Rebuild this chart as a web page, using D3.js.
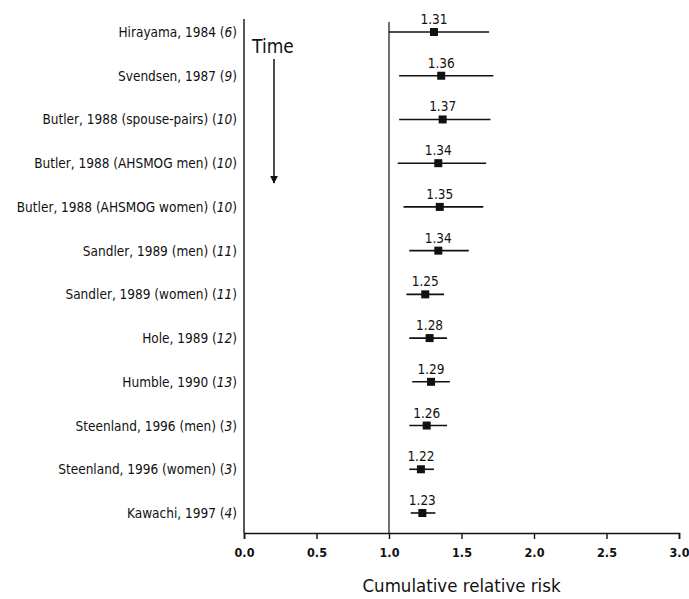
<!DOCTYPE html>
<html>
<head>
<meta charset="utf-8">
<script src="https://cdn.jsdelivr.net/npm/d3@7"></script>
<style>
  body { margin: 0; background: #fff; }
  svg { font-family: "DejaVu Sans Condensed", "DejaVu Sans", sans-serif; font-stretch: condensed; }
</style>
</head>
<body>
<div id="chart"></div>
<script>
const studies = ["Hirayama, 1984", "Svendsen, 1987", "Butler, 1988 (spouse-pairs)", "Butler, 1988 (AHSMOG men)",
    "Butler, 1988 (AHSMOG women)", "Sandler, 1989 (men)", "Sandler, 1989 (women)", "Hole, 1989",
    "Humble, 1990", "Steenland, 1996 (men)", "Steenland, 1996 (women)", "Kawachi, 1997"];
const refs = ["6", "9", "10", "10", "10", "11", "11", "12", "13", "3", "3", "4"];
const rr = [1.31, 1.36, 1.37, 1.34, 1.35, 1.34, 1.25, 1.28, 1.29, 1.26, 1.22, 1.23];
const lower = [1.00, 1.07, 1.07, 1.06, 1.10, 1.14, 1.12, 1.14, 1.16, 1.14, 1.14, 1.15];
const upper = [1.69, 1.72, 1.70, 1.67, 1.65, 1.55, 1.38, 1.40, 1.42, 1.40, 1.31, 1.32];
const xTicks = [0, 0.5, 1, 1.5, 2, 2.5, 3];

const data = studies.map((s, i) => ({ study: s, ref: refs[i], rr: rr[i], lo: lower[i], hi: upper[i] }));

const W = 689, H = 599;
const margin = { top: 10, right: 10, bottom: 66, left: 244 };

const svg = d3.select("#chart").append("svg")
    .attr("width", W)
    .attr("height", H);

const x = d3.scaleLinear().domain([0, 3]).range([margin.left, W - margin.right]);
const y = d3.scalePoint().domain(d3.range(data.length)).range([32, 513]);
const axisY = H - margin.bottom;

// axis
svg.append("g")
    .attr("transform", `translate(0,${axisY})`)
    .call(d3.axisBottom(x).tickValues(xTicks).tickFormat(d3.format(".1f")).tickSize(6).tickPadding(9))
    .call(g => g.select(".domain").attr("stroke", "#111").attr("stroke-width", 1.6))
    .call(g => g.selectAll(".tick line").attr("stroke", "#111").attr("stroke-width", 1.4))
    .call(g => g.selectAll(".tick text")
        .attr("font-size", "12.5px")
        .attr("font-weight", "bold")
        .attr("fill", "#111")
        .attr("font-family", "'DejaVu Sans Condensed', 'DejaVu Sans', sans-serif"));

// left vertical line and reference line at 1.0
svg.append("line")
    .attr("x1", x(0)).attr("x2", x(0))
    .attr("y1", 19).attr("y2", axisY)
    .attr("stroke", "#111").attr("stroke-width", 1.4);

svg.append("line")
    .attr("x1", x(1)).attr("x2", x(1))
    .attr("y1", 22).attr("y2", axisY)
    .attr("stroke", "#111").attr("stroke-width", 1.2);

// axis title
svg.append("text")
    .attr("x", x(1.5))
    .attr("y", 592)
    .attr("text-anchor", "middle")
    .attr("font-size", "18.5px")
    .attr("fill", "#111")
    .text("Cumulative relative risk");

// row labels
const labels = svg.selectAll(".row-label")
    .data(data)
    .enter()
    .append("text")
    .attr("class", "row-label")
    .attr("x", 237)
    .attr("y", (d, i) => y(i) + 5)
    .attr("text-anchor", "end")
    .attr("font-size", "13.5px")
    .attr("fill", "#111");
labels.append("tspan").text(d => d.study + " (");
labels.append("tspan").attr("font-style", "italic").text(d => d.ref);
labels.append("tspan").text(")");

// confidence intervals
svg.selectAll(".ci")
    .data(data)
    .enter()
    .append("line")
    .attr("class", "ci")
    .attr("x1", d => x(d.lo))
    .attr("x2", d => x(d.hi))
    .attr("y1", (d, i) => y(i))
    .attr("y2", (d, i) => y(i))
    .attr("stroke", "#111")
    .attr("stroke-width", 1.6);

svg.selectAll(".pt")
    .data(data)
    .enter()
    .append("rect")
    .attr("class", "pt")
    .attr("x", d => x(d.rr) - 4)
    .attr("y", (d, i) => y(i) - 4)
    .attr("width", 8)
    .attr("height", 8)
    .attr("fill", "#111");

svg.selectAll(".val")
    .data(data)
    .enter()
    .append("text")
    .attr("class", "val")
    .attr("x", d => x(d.rr))
    .attr("y", (d, i) => y(i) - 8)
    .attr("text-anchor", "middle")
    .attr("font-size", "13.5px")
    .attr("fill", "#111")
    .text(d => d.rr.toFixed(2));

// time arrow
svg.append("text")
    .attr("x", 273)
    .attr("y", 53)
    .attr("text-anchor", "middle")
    .attr("font-size", "19px")
    .attr("fill", "#111")
    .text("Time");

svg.append("defs").append("marker")
    .attr("id", "arrow")
    .attr("viewBox", "0 0 10 10")
    .attr("refX", 9).attr("refY", 5)
    .attr("markerWidth", 8).attr("markerHeight", 10)
    .attr("markerUnits", "userSpaceOnUse")
    .attr("orient", "auto")
    .append("path")
    .attr("d", "M0,0 L10,5 L0,10 Z")
    .attr("fill", "#111");

svg.append("line")
    .attr("x1", 274).attr("x2", 274)
    .attr("y1", 59).attr("y2", 183)
    .attr("stroke", "#111")
    .attr("stroke-width", 1.5)
    .attr("marker-end", "url(#arrow)");
</script>
</body>
</html>
